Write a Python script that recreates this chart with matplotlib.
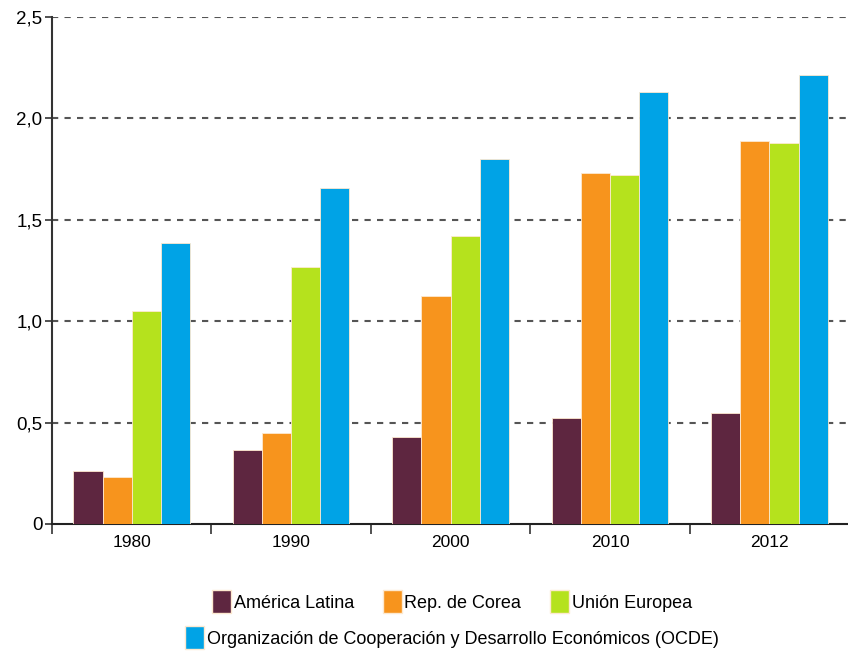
import matplotlib
matplotlib.use("Agg")
import matplotlib.pyplot as plt
from matplotlib.patches import Patch
import numpy as np

plt.rcParams["font.family"] = ["Liberation Sans", "DejaVu Sans"]

years = ["1980", "1990", "2000", "2010", "2012"]
america_latina = [0.26, 0.365, 0.43, 0.525, 0.545]
corea = [0.23, 0.45, 1.125, 1.73, 1.89]
union_europea = [1.05, 1.265, 1.42, 1.72, 1.88]
ocde = [1.385, 1.655, 1.80, 2.13, 2.215]

series = [
    ("América Latina", america_latina, "#5e2640"),
    ("Rep. de Corea", corea, "#f7941d"),
    ("Unión Europea", union_europea, "#b5e21d"),
    ("Organización de Cooperación y Desarrollo Económicos (OCDE)", ocde, "#00a3e6"),
]
y_ticks = [0, 0.5, 1.0, 1.5, 2.0, 2.5]
y_labels = ["0", "0,5", "1,0", "1,5", "2,0", "2,5"]

fig = plt.figure(figsize=(8.48, 6.54), dpi=100)
ax = fig.add_axes([0.0613, 0.1988, 0.94, 0.7752])

x = np.arange(len(years))
width = 0.183
for i, (name, vals, color) in enumerate(series):
    ax.bar(x + (i - 1.5) * width, vals, width, color=color, edgecolor="#fde9d0",
           linewidth=0.6, zorder=3)

ax.set_xlim(-0.5, len(years) - 0.5)
ax.set_ylim(0, 2.5)
ax.set_yticks(y_ticks)
ax.set_yticklabels(y_labels, fontsize=13.5)
ax.set_xticks(np.arange(len(years) + 1) - 0.5)
ax.set_xticklabels([])
ax.set_xticks(x, minor=True)
ax.set_xticklabels(years, minor=True, fontsize=12.5)
ax.tick_params(axis="x", which="minor", length=0, pad=8)
ax.tick_params(axis="x", which="major", direction="out", length=7, width=1.2, color="#333333")
ax.tick_params(axis="y", direction="out", length=5, width=1.2, color="#333333", pad=2)

for y in y_ticks[1:]:
    ax.axhline(y, color="#555555", linestyle=(0, (3, 3)), linewidth=1.5, zorder=1)

for side in ["top", "right"]:
    ax.spines[side].set_visible(False)
ax.spines["left"].set_color("#333333")
ax.spines["left"].set_linewidth(1.5)
ax.spines["bottom"].set_color("#222222")
ax.spines["bottom"].set_linewidth(1.5)

handles = [Patch(facecolor=c, edgecolor="#fde9d0", label=n) for n, _, c in series]
fig.legend(handles=handles[:3], loc="center", bbox_to_anchor=(0.533, 0.08), ncol=3,
           frameon=False, fontsize=13, handlelength=1.05, handleheight=1.6,
           handletextpad=0.15, columnspacing=1.6)
fig.legend(handles=handles[3:], loc="center", bbox_to_anchor=(0.533, 0.025), ncol=1,
           frameon=False, fontsize=13, handlelength=1.05, handleheight=1.6,
           handletextpad=0.15)

fig.savefig("out.png", dpi=100)
